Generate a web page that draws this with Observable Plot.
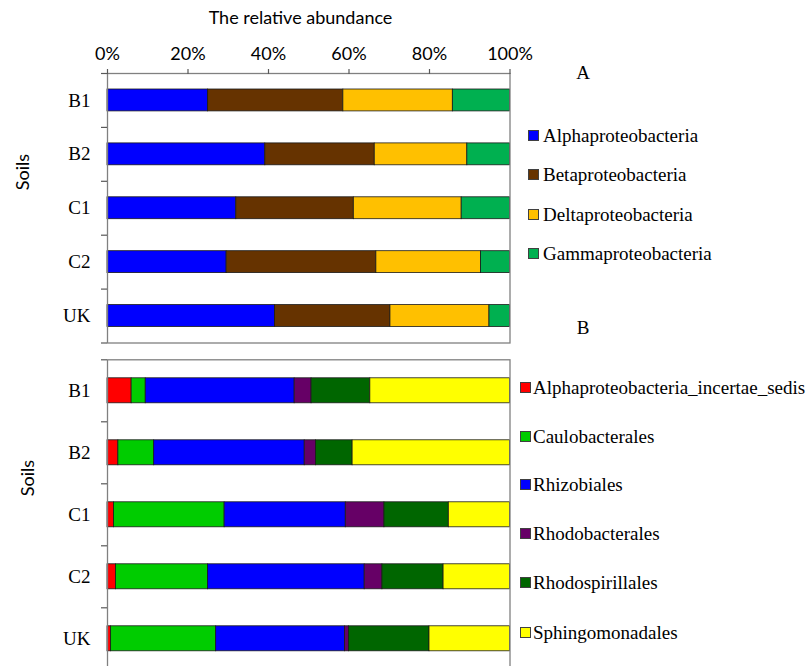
<!DOCTYPE html>
<html><head><meta charset="utf-8">
<script src="https://cdn.jsdelivr.net/npm/d3@7"></script>
<script src="https://cdn.jsdelivr.net/npm/@observablehq/plot@0.6"></script>
<style>
html,body{margin:0;padding:0;background:#fff;overflow:hidden;}
#root{position:relative;width:809px;height:666px;overflow:hidden;background:#fff;}
.abs{position:absolute;white-space:nowrap;}
.serif{font-family:"Liberation Serif","Times New Roman",serif;color:#000;font-size:19px;line-height:19px;}
.sans{font-family:Lato,"Open Sans",sans-serif;color:#000;}
.sw{position:absolute;width:11px;height:11px;box-sizing:border-box;border:1px solid #404040;}
</style></head><body><div id="root"></div>
<script>
// ---------- data ----------
const soils = ["B1", "B2", "C1", "C2", "UK"];
const xTicks = [0, 0.2, 0.4, 0.6, 0.8, 1];

// Panel A: classes
const classesA = ["Alphaproteobacteria", "Betaproteobacteria", "Deltaproteobacteria", "Gammaproteobacteria"];
const colorsA = ["#0000FF", "#663300", "#FFC000", "#00B050"];
const alphaA = [25.0, 39.2, 32.0, 29.6, 41.6];
const betaA  = [33.6, 27.2, 29.2, 37.2, 28.7];
const deltaA = [27.2, 23.0, 26.8, 26.0, 24.6];
const gammaA = [14.2, 10.6, 12.0, 7.2, 5.1];

// Panel B: orders
const ordersB = ["Alphaproteobacteria_incertae_sedis", "Caulobacterales", "Rhizobiales", "Rhodobacterales", "Rhodospirillales", "Sphingomonadales"];
const colorsB = ["#FF0000", "#00CC00", "#0000FF", "#660066", "#006600", "#FFFF00"];
const incertaeB  = [6.0, 2.7, 1.6, 2.1, 0.9];
const cauloB     = [3.5, 8.9, 27.5, 22.9, 26.1];
const rhizoB     = [37.0, 37.4, 30.1, 38.9, 32.0];
const rhodobactB = [4.2, 2.8, 9.6, 4.4, 1.0];
const rhodospirB = [14.6, 9.1, 16.0, 15.2, 20.0];
const sphingoB   = [34.7, 39.1, 15.2, 16.5, 20.0];

// ---------- build rows ----------
function toRows(series, valueArrays) {
  const rows = [];
  soils.forEach((s, i) => {
    series.forEach((name, k) => {
      rows.push({soil: s, i0: i, i1: i + 1, series: name, value: valueArrays[k][i]});
    });
  });
  return rows;
}
const rowsA = toRows(classesA, [alphaA, betaA, deltaA, gammaA]);
const rowsB = toRows(ordersB, [incertaeB, cauloB, rhizoB, rhodobactB, rhodospirB, sphingoB]);

const root = document.getElementById("root");
const SERIF = "Liberation Serif, Times New Roman, serif";
const SANS = "Lato, Open Sans, sans-serif";

function panel({rows, series, colors, top, height, marginTop, marginBottom, inset, xAxis}) {
  const marks = [
    Plot.rectX(rows, Plot.stackX({
      x: "value", y1: "i0", y2: "i1", fill: "series", offset: "normalize",
      insetTop: inset, insetBottom: inset, stroke: "#1a1a1a", strokeWidth: 0.8
    })),
    Plot.frame({stroke: "#808080", strokeWidth: 1.3}),
    Plot.axisY({ticks: d3.range(soils.length + 1), tickSize: 6, tickFormat: () => "", label: null, stroke: "#595959", strokeWidth: 1.2}),
    Plot.text(soils, {frameAnchor: "left", y: (d, i) => i + 0.5, text: d => d, textAnchor: "end", dx: -17, fontFamily: SERIF, fontSize: 19, fill: "#000"})
  ];
  if (xAxis) {
    marks.push(Plot.axisX({anchor: "top", ticks: xTicks, tickFormat: d3.format(".0%"), label: null, tickSize: 5, tickPadding: 9, stroke: "#595959", strokeWidth: 1.2, fontFamily: SANS, fontSize: 18, fill: "#000"}));
  }
  const chart = Plot.plot({
    width: 809, height, marginTop, marginBottom, marginLeft: 107, marginRight: 299.5,
    style: {background: "transparent", overflow: "visible"},
    x: {domain: [0, 1], axis: null, label: null},
    y: {domain: [0, soils.length], reverse: true, axis: null, label: null},
    color: {domain: series, range: colors},
    marks
  });
  chart.style.position = "absolute";
  chart.style.left = "0px";
  chart.style.top = top + "px";
  root.appendChild(chart);
}

panel({rows: rowsA, series: classesA, colors: colorsA, top: 0, height: 345, marginTop: 73, marginBottom: 2.5, inset: 16, xAxis: true});
panel({rows: rowsB, series: ordersB, colors: colorsB, top: 345, height: 330, marginTop: 14.3, marginBottom: 5.7, inset: 18.5, xAxis: false});

function addText(txt, cls, x, y, opts = {}) {
  const d = document.createElement("div");
  d.className = "abs " + cls;
  d.textContent = txt;
  d.style.left = x + "px";
  d.style.top = y + "px";
  d.style.transform = opts.transform || "translate(0,-50%)";
  if (opts.size) { d.style.fontSize = opts.size + "px"; d.style.lineHeight = opts.size + "px"; }
  root.appendChild(d);
  return d;
}
function legend(series, colors, swX, textX, ys) {
  series.forEach((name, k) => {
    const sw = document.createElement("div");
    sw.className = "sw";
    sw.style.left = swX + "px";
    sw.style.top = (ys[k] - 5.5) + "px";
    sw.style.background = colors[k];
    root.appendChild(sw);
    addText(name, "serif", textX, ys[k]);
  });
}
legend(classesA, colorsA, 528, 543, [135, 174, 214, 253]);
legend(ordersB, colorsB, 520, 533, [387, 436, 484, 533, 582, 632]);

addText("A", "serif", 583, 72, {transform: "translate(-50%,-50%)"});
addText("B", "serif", 583, 327, {transform: "translate(-50%,-50%)"});
addText("The relative abundance", "sans", 300.5, 17, {transform: "translate(-50%,-50%)", size: 18});
addText("Soils", "sans", 22, 172, {transform: "translate(-50%,-50%) rotate(-90deg)", size: 18});
addText("Soils", "sans", 27, 478, {transform: "translate(-50%,-50%) rotate(-90deg)", size: 18});
</script></body></html>
